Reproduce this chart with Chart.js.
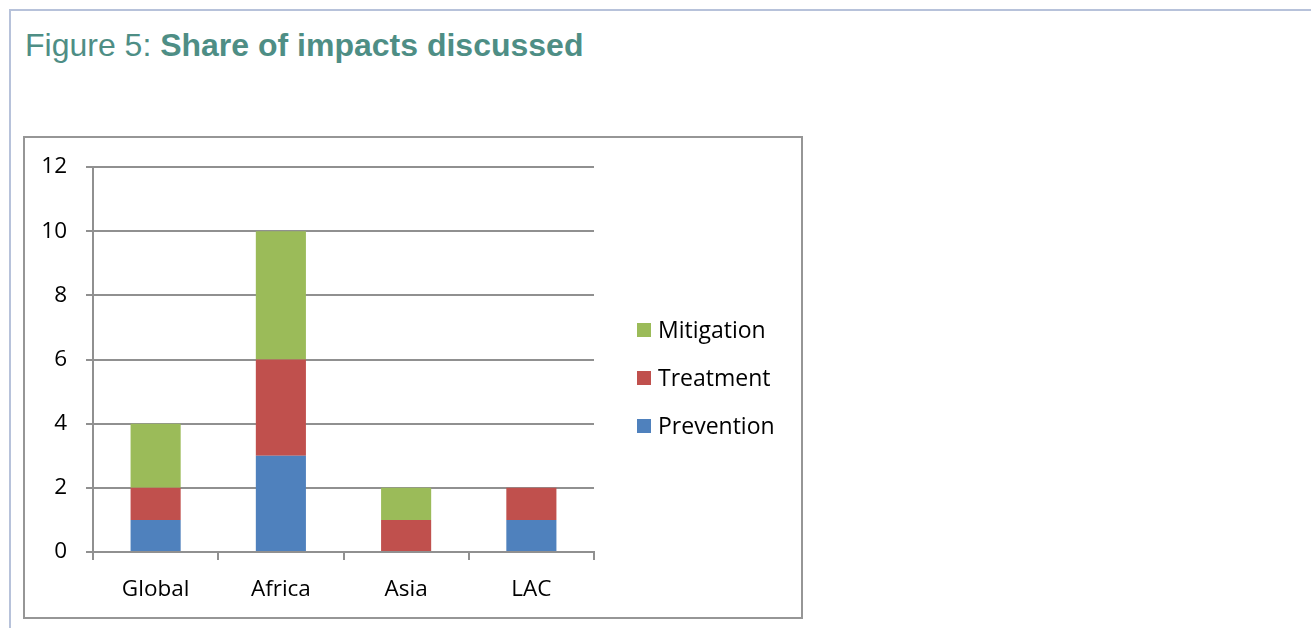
<!DOCTYPE html>
<html>
<head>
<meta charset="utf-8">
<script src="https://cdn.jsdelivr.net/npm/chart.js@4"></script>
<style>
  html, body { margin: 0; padding: 0; background: #ffffff; }
  body { width: 1311px; height: 628px; position: relative; overflow: hidden; }
  #frame { position: absolute; left: 9px; top: 9px; width: 1400px; height: 700px;
           border-top: 2px solid #b7c2da; border-left: 2px solid #b7c2da; }
  #title { position: absolute; left: 25px; top: 26px; margin: 0;
           font-family: "Liberation Sans", Arial, sans-serif; font-size: 32px; font-weight: normal;
           color: #4e8e85; white-space: nowrap; line-height: 38px; }
  #title b { font-weight: bold; }
  #box { position: absolute; left: 23px; top: 136px; width: 776px; height: 479px;
         border: 2px solid #969696; }
  canvas { display: block; }
</style>
</head>
<body>
<div id="frame"></div>
<h1 id="title">Figure 5: <b>Share of impacts discussed</b></h1>
<div id="box"><canvas id="c" width="776" height="479"></canvas></div>
<script>
const categories = ['Global', 'Africa', 'Asia', 'LAC'];
const seriesNames = ['Prevention', 'Treatment', 'Mitigation'];
const prevention = [1, 3, 0, 1];
const treatment  = [1, 3, 1, 1];
const mitigation = [2, 4, 1, 0];
const yMin = 0, yMax = 12, yStep = 2;

const colors = ['#4f81bd', '#c0504d', '#9bbb59'];
const font = { family: '"Open Sans", "Noto Sans", sans-serif', size: 22.5 };
const legendFont = { family: '"Open Sans", "Noto Sans", sans-serif', size: 23 };
const gridColor = '#909090';

const legendPlugin = {
  id: 'sideLegend',
  afterDraw(chart) {
    const ctx = chart.ctx;
    const area = chart.chartArea;
    const boxX = area.right + 43;
    const textX = boxX + 21;
    const firstY = 192, gap = 48;
    ctx.save();
    ctx.font = legendFont.size + 'px ' + legendFont.family;
    ctx.textBaseline = 'middle';
    ctx.textAlign = 'left';
    const ds = chart.data.datasets.slice().reverse();
    ds.forEach((d, i) => {
      const cy = firstY + i * gap;
      ctx.fillStyle = d.backgroundColor;
      ctx.fillRect(boxX, cy - 7, 14, 14);
      ctx.fillStyle = '#000000';
      ctx.fillText(d.label, textX, cy + 1);
    });
    ctx.restore();
  }
};

new Chart(document.getElementById('c'), {
  type: 'bar',
  data: {
    labels: categories,
    datasets: [
      { label: seriesNames[0], data: prevention, backgroundColor: colors[0] },
      { label: seriesNames[1], data: treatment,  backgroundColor: colors[1] },
      { label: seriesNames[2], data: mitigation, backgroundColor: colors[2] }
    ]
  },
  options: {
    responsive: false,
    animation: false,
    devicePixelRatio: 1,
    datasets: { bar: { barPercentage: 0.4, categoryPercentage: 1.0, borderWidth: 0 } },
    layout: { padding: { left: 0, right: 207, top: 29, bottom: 0 } },
    plugins: { legend: { display: false }, tooltip: { enabled: false } },
    scales: {
      x: {
        stacked: true,
        grid: { display: true, drawOnChartArea: false, drawTicks: true, tickLength: 8,
                color: gridColor, lineWidth: 2, offset: true },
        border: { display: true, color: gridColor, width: 2 },
        ticks: { font: font, color: '#000000', padding: 16, maxRotation: 0, autoSkip: false },
        afterFit(scale) { scale.height = 65; scale.paddingLeft = 0; scale.paddingRight = 0; }
      },
      y: {
        stacked: true,
        min: yMin, max: yMax,
        ticks: { stepSize: yStep, font: font, color: '#000000', padding: 19 },
        grid: { color: gridColor, lineWidth: 2, tickLength: 7, drawTicks: true },
        border: { display: true, color: gridColor, width: 2 },
        afterFit(scale) { scale.width = 68; scale.paddingTop = 0; scale.paddingBottom = 0; }
      }
    }
  },
  plugins: [legendPlugin]
});
</script>
</body>
</html>
